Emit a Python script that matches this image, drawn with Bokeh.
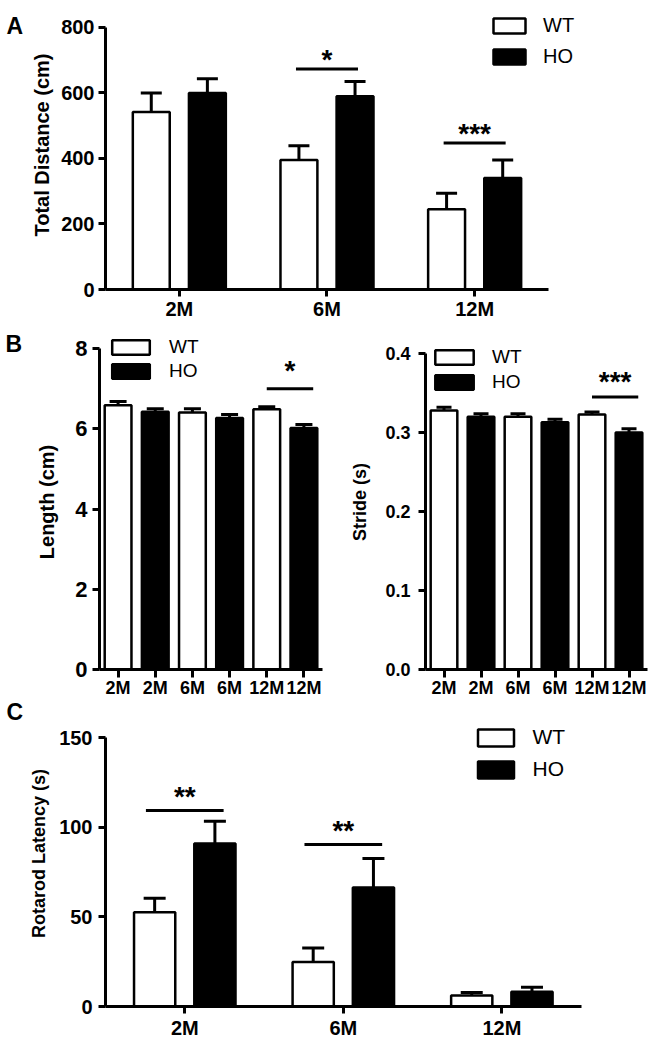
from bokeh.plotting import figure
from bokeh.layouts import column, row
from bokeh.models import (ColumnDataSource, Range1d, Whisker, TeeHead, Legend,
                          LegendItem, FixedTicker, NumeralTickFormatter)
from bokeh.transform import dodge
from bokeh.core.properties import value
from bokeh.embed import file_html
from bokeh.resources import INLINE

FONT = "Liberation Sans"

# ---------------- data ----------------
panel_letters = ["A", "B", "C"]

ages = ["2M", "6M", "12M"]
dist_wt = [542, 395, 245]
dist_wt_sem = [58, 44, 49]
dist_ho = [600, 590, 340]
dist_ho_sem = [43, 45, 55]
dist_sig_ages = ["6M", "12M"]
dist_sig_y = [673, 447]
dist_sig_text = ["*", "***"]

gait_labels = ["2M", "2M", "6M", "6M", "12M", "12M"]
gait_groups = ["WT", "HO", "WT", "HO", "WT", "HO"]
length_mean = [6.59, 6.43, 6.41, 6.27, 6.49, 6.02]
length_sem = [0.09, 0.07, 0.09, 0.09, 0.06, 0.09]
stride_mean = [0.328, 0.320, 0.320, 0.313, 0.323, 0.300]
stride_sem = [0.004, 0.004, 0.004, 0.004, 0.003, 0.005]
length_sig_pair = [4, 5]
length_sig_y = [7.0]
length_sig_text = ["*"]
stride_sig_pair = [4, 5]
stride_sig_y = [0.345]
stride_sig_text = ["***"]

rota_wt = [52.6, 24.9, 6.1]
rota_wt_sem = [7.8, 7.8, 1.7]
rota_ho = [91.0, 66.5, 8.3]
rota_ho_sem = [12.4, 16.2, 2.4]
rota_sig_ages = ["2M", "6M"]
rota_sig_y = [109.5, 90.5]
rota_sig_text = ["**", "**"]


def make_fig(x_range, y_range, width, height, left, right, top, bottom):
    p = figure(x_range=x_range, y_range=y_range, width=width, height=height,
               min_border_left=left, min_border_right=right,
               min_border_top=top, min_border_bottom=bottom,
               output_backend="svg", toolbar_location=None)
    p.grid.visible = False
    p.outline_line_color = None
    for ax in p.axis:
        ax.axis_line_width = 3
        ax.axis_line_color = "black"
        ax.major_tick_line_width = 3
        ax.major_tick_line_color = "black"
        ax.major_tick_in = 0
        ax.major_tick_out = 7
        ax.minor_tick_line_color = None
        ax.major_label_text_font = FONT
        ax.major_label_text_font_style = "bold"
        ax.major_label_text_color = "black"
        ax.axis_label_text_font = FONT
        ax.axis_label_text_font_style = "bold"
        ax.axis_label_text_color = "black"
    return p


def style_axes(p, ytick_px, ystand, xtick_px, xstand, xtick_out, ylabel, ylabel_px, ylab_stand, yticks, ybounds):
    p.yaxis.ticker = FixedTicker(ticks=yticks)
    p.yaxis.bounds = ybounds
    p.yaxis.major_label_text_font_size = f"{ytick_px}px"
    p.yaxis.major_label_standoff = ystand
    p.yaxis.axis_label = ylabel
    p.yaxis.axis_label_text_font_size = f"{ylabel_px}px"
    p.yaxis.axis_label_standoff = ylab_stand
    p.xaxis.major_label_text_font_size = f"{xtick_px}px"
    p.xaxis.major_label_standoff = xstand
    p.xaxis.major_tick_out = xtick_out


def add_legend(p, r_wt, r_ho, x, y, gw, gh, spacing, font_px, standoff):
    lg = Legend(items=[LegendItem(label="WT", renderers=[r_wt]),
                       LegendItem(label="HO", renderers=[r_ho])],
                location=(x, y), glyph_width=gw, glyph_height=gh, spacing=spacing,
                padding=0, margin=0, label_standoff=standoff,
                label_text_font=FONT, label_text_font_size=f"{font_px}px",
                label_text_color="black",
                border_line_alpha=0, background_fill_alpha=0)
    p.add_layout(lg)


def grouped_panel(p, cats, wt, wt_sem, ho, ho_sem, off, bw, cap, sig_cats, sig_y, sig_txt, half, star_px, star_off):
    idx = list(range(len(cats)))
    src = ColumnDataSource(dict(
        xi=idx, wt=wt, wt_hi=[m + s for m, s in zip(wt, wt_sem)],
        ho=ho, ho_hi=[m + s for m, s in zip(ho, ho_sem)]))
    r_wt = p.vbar(x=dodge("xi", -off), top="wt", bottom=0, width=bw, source=src,
                  fill_color="white", line_color="black", line_width=2.5)
    r_ho = p.vbar(x=dodge("xi", off), top="ho", bottom=0, width=bw, source=src,
                  fill_color="black", line_color="black", line_width=2.5)
    for o, lo, hi in [(-off, "wt", "wt_hi"), (off, "ho", "ho_hi")]:
        p.add_layout(Whisker(source=src, base=dodge("xi", o), lower=lo, upper=hi,
                             dimension="height", line_width=3, line_color="black",
                             upper_head=TeeHead(size=cap, line_width=3, line_color="black"),
                             lower_head=None))
    ssrc = ColumnDataSource(dict(xi=[cats.index(c) for c in sig_cats], y=sig_y, txt=sig_txt))
    p.segment(x0=dodge("xi", -half), x1=dodge("xi", half),
              y0="y", y1="y", source=ssrc, line_width=3, line_color="black")
    p.text(x="xi", y="y", text="txt", source=ssrc, text_align="center", text_baseline="alphabetic",
           text_font=value(FONT), text_font_style="bold", text_font_size=f"{star_px}px",
           y_offset=star_off, text_color="black")
    p.xaxis.ticker = FixedTicker(ticks=idx)
    p.xaxis.major_label_overrides = {i: cats[i] for i in idx}
    p.xaxis.bounds = (-0.5, len(cats) - 0.5)
    return r_wt, r_ho


def gait_panel(p, means, sems, pair, sig_y, sig_txt, cap, star_px, star_off):
    idx = list(range(len(means)))
    for grp, fill in [("WT", "white"), ("HO", "black")]:
        sel = [i for i in idx if gait_groups[i] == grp]
        src = ColumnDataSource(dict(x=sel, top=[means[i] for i in sel],
                                    hi=[means[i] + sems[i] for i in sel]))
        r = p.vbar(x="x", top="top", bottom=0, width=0.72, source=src,
                   fill_color=fill, line_color="black", line_width=2.5)
        p.add_layout(Whisker(source=src, base="x", lower="top", upper="hi", dimension="height",
                             line_width=3, line_color="black",
                             upper_head=TeeHead(size=cap, line_width=3, line_color="black"),
                             lower_head=None))
        if grp == "WT":
            r_wt = r
        else:
            r_ho = r
    ssrc = ColumnDataSource(dict(x0=[pair[0]], x1=[pair[1] + 0.25], y=sig_y, txt=sig_txt,
                                 xm=[(pair[0] + pair[1] + 0.25) / 2]))
    p.segment(x0="x0", x1="x1", y0="y", y1="y", source=ssrc, line_width=3, line_color="black")
    p.text(x="xm", y="y", text="txt", source=ssrc, text_align="center", text_baseline="alphabetic",
           text_font=value(FONT), text_font_style="bold", text_font_size=f"{star_px}px",
           y_offset=star_off, text_color="black")
    p.xaxis.ticker = FixedTicker(ticks=idx)
    p.xaxis.major_label_overrides = {i: gait_labels[i] for i in idx}
    return r_wt, r_ho


# ---------------- Panel A ----------------
pA = make_fig(Range1d(-0.5, 3.191), Range1d(0, 882.1),
              width=624, height=322, left=74, right=0, top=0, bottom=32)
style_axes(pA, 20, 4, 20, 1, 7, "Total Distance (cm)", 20, 5, [0, 200, 400, 600, 800], (0, 800))
a_wt, a_ho = grouped_panel(pA, ages, dist_wt, dist_wt_sem, dist_ho, dist_ho_sem, 0.19, 0.25, 21,
                           dist_sig_ages, dist_sig_y, dist_sig_text, 0.21, 28, -10)
add_legend(pA, a_wt, a_ho, 384, 221, 40, 19, 8, 20, 14)

# ---------------- Panel B ----------------
pB1 = make_fig(Range1d(-0.5, 5.5), Range1d(0, 8.3534), width=319, height=378,
               left=73, right=23, top=12, bottom=28)
style_axes(pB1, 22, 5, 18, 0, 8, "Length (cm)", 20, 14, [0, 2, 4, 6, 8], (0, 8))
b1_wt, b1_ho = gait_panel(pB1, length_mean, length_sem, length_sig_pair, length_sig_y, length_sig_text,
                          17, 28, -18)
add_legend(pB1, b1_wt, b1_ho, 8, 287, 47, 18, 2, 19, 15)

pB2 = make_fig(Range1d(-0.5, 5.5), Range1d(0, 0.42422), width=305, height=378,
               left=80, right=3, top=12, bottom=28)
style_axes(pB2, 18, 8, 18, 0, 8, "Stride (s)", 18, 12, [0, 0.1, 0.2, 0.3, 0.4], (0, 0.4))
pB2.yaxis.formatter = NumeralTickFormatter(format="0.0")
b2_wt, b2_ho = gait_panel(pB2, stride_mean, stride_sem, stride_sig_pair, stride_sig_y, stride_sig_text,
                          15, 28, -16)
add_legend(pB2, b2_wt, b2_ho, 5, 276, 48, 18, 3, 19, 14)

# ---------------- Panel C ----------------
pC = make_fig(Range1d(-0.5, 2.9375), Range1d(0, 170.9),
              width=624, height=341, left=74, right=0, top=0, bottom=33)
style_axes(pC, 20, 6, 20, 3, 7, "Rotarod Latency (s)", 18, 7, [0, 50, 100, 150], (0, 150))
c_wt, c_ho = grouped_panel(pC, ages, rota_wt, rota_wt_sem, rota_ho, rota_ho_sem, 0.19, 0.26, 22,
                           rota_sig_ages, rota_sig_y, rota_sig_text, 0.245, 28, -14)
add_legend(pC, c_wt, c_ho, 367.5, 225, 45, 21, 8, 21, 15)

# ---------------- panel letters: one narrow blank strip on the left ----------------
STRIP_W, STRIP_H = 26, 1041
strip = figure(width=STRIP_W, height=STRIP_H, x_range=Range1d(0, STRIP_W), y_range=Range1d(STRIP_H, 0),
               min_border_left=0, min_border_right=0, min_border_top=0, min_border_bottom=0,
               x_axis_location=None, y_axis_location=None,
               output_backend="svg", toolbar_location=None)
strip.grid.visible = False
strip.outline_line_color = None
strip.text(x=[6, 5, 6], y=[25, 343, 711], text=panel_letters,
           text_font=value(FONT), text_font_style="bold", text_font_size="23px",
           text_color="black", text_baseline="alphabetic", text_align="left")

layout = row(strip, column(pA, row(pB1, pB2), pC))
open("out.html", "w").write(file_html(layout, INLINE))
